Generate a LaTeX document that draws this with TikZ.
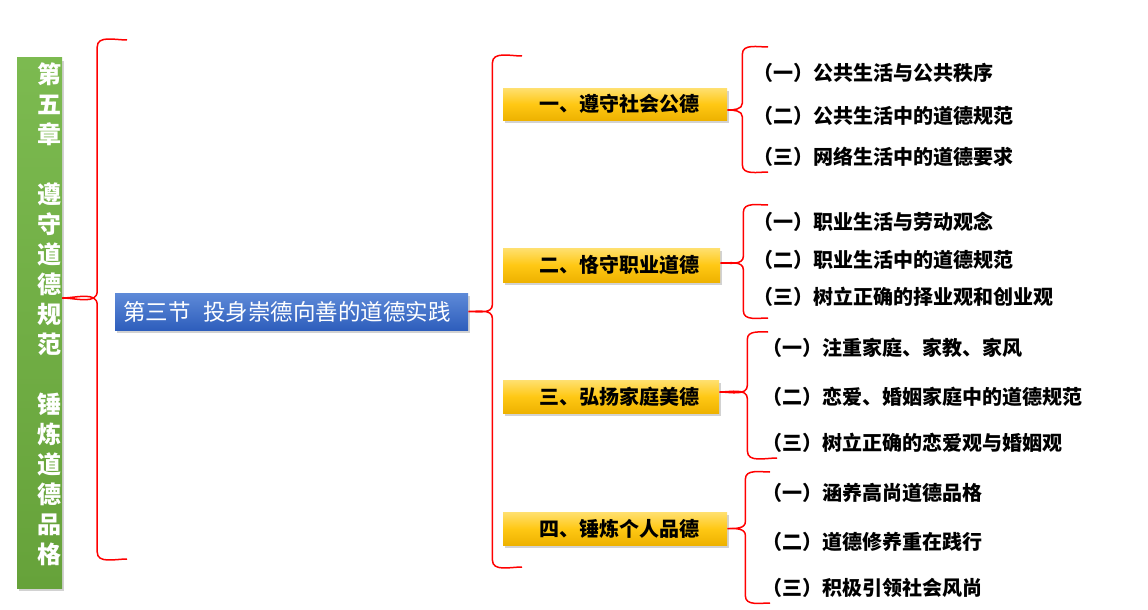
\documentclass[tikz,border=0pt]{standalone}
\usepackage{fontspec}
\setmainfont{Noto Sans CJK SC}
\usetikzlibrary{calc,shadows}
\definecolor{gtop}{RGB}{124,186,80}
\definecolor{gbot}{RGB}{102,162,58}
\definecolor{btop}{RGB}{94,138,216}
\definecolor{bbot}{RGB}{46,94,188}
\definecolor{ytop}{RGB}{255,224,112}
\definecolor{ymid}{RGB}{255,200,20}
\definecolor{ybot}{RGB}{238,178,0}
\definecolor{bracered}{RGB}{255,0,0}
\tikzset{
 shad/.style={drop shadow={shadow xshift=2pt, shadow yshift=-3pt, opacity=0.35}},
 greenbar/.style={shad, top color=gtop, bottom color=gbot, draw=none, minimum width=45pt, minimum height=530pt, inner sep=0pt},
 bartext/.style={text=white, font=\bfseries\fontsize{24}{30}\selectfont, align=center, inner sep=0pt},
 secbox/.style={shad, top color=btop, bottom color=bbot, minimum height=37pt, inner xsep=8pt, inner ysep=0pt, text width=337pt, text=white, font=\fontsize{22.5}{26}\selectfont, align=left, anchor=west},
 ybox/.style={shad, top color=ytop, bottom color=ybot, middle color=ymid, inner xsep=0pt, inner ysep=0pt, font=\bfseries\fontsize{20}{24}\selectfont, align=left, anchor=west},
 item/.style={anchor=west, inner sep=0pt, font=\bfseries\fontsize{20}{24}\selectfont},
 brace/.style={draw=bracered, line width=1.5pt},
}
\newcommand\drawbrace[4]{\draw[brace] let \p1=(#2), \p2=(#3), \p3=(#1) in
 (\p1) to[out=180,in=90] ({\x3+#4},{\y1-7pt}) -- ({\x3+#4},{\y3+7pt})
 to[out=-90,in=0] (\p3) to[out=0,in=90] ({\x3+#4},{\y3-7pt})
 -- ({\x3+#4},{\y2+7pt}) to[out=-90,in=180] (\p2);}
\begin{document}
\begin{tikzpicture}[x=1pt,y=-1pt]
\useasboundingbox[fill=white] (0,0) rectangle (1148,610);
% chapter bar
\node[greenbar] (bar) at (39.5,323) {};
\node[bartext] (bart) at (49,314.5) {第\\五\\章\\\mbox{}\\遵\\守\\道\\德\\规\\范\\\mbox{}\\锤\\炼\\道\\德\\品\\格};
% section
\node[secbox] (sec) at (115,311.5) {第三节 \hspace{5pt}投身崇德向善的道德实践};
% four topics
\node[ybox, text width=224pt, minimum height=32pt] (y1) at (503,104) {\hspace*{36pt}一、遵守社会公德};
\node[ybox, text width=217pt, minimum height=34pt] (y2) at (503,265) {\hspace*{36pt}二、恪守职业道德};
\node[ybox, text width=216pt, minimum height=33pt] (y3) at (503,396.5) {\hspace*{36pt}三、弘扬家庭美德};
\node[ybox, text width=224pt, minimum height=33pt] (y4) at (503,528.5) {\hspace*{36pt}四、锤炼个人品德};
% items
\node[item] (i11) at (753,73) {（一）公共生活与公共秩序};
\node[item] (i12) at (753,116) {（二）公共生活中的道德规范};
\node[item] (i13) at (753,157) {（三）网络生活中的道德要求};
\node[item] (i21) at (753,222) {（一）职业生活与劳动观念};
\node[item] (i22) at (753,260) {（二）职业生活中的道德规范};
\node[item] (i23) at (753,297) {（三）树立正确的择业观和创业观};
\node[item] (i31) at (762,348) {（一）注重家庭、家教、家风};
\node[item] (i32) at (762,397) {（二）恋爱、婚姻家庭中的道德规范};
\node[item] (i33) at (762,443) {（三）树立正确的恋爱观与婚姻观};
\node[item] (i41) at (762,493) {（一）涵养高尚道德品格};
\node[item] (i42) at (762,542) {（二）道德修养重在践行};
\node[item] (i43) at (762,588) {（三）积极引领社会风尚};
% brace end points
\coordinate (b0t) at (127,40);  \coordinate (b0b) at (127,559);
\coordinate (bmt) at (522,56);  \coordinate (bmb) at (522,567);
\coordinate (b1t) at (768,47);  \coordinate (b1b) at (768,172);
\coordinate (b2t) at (768,205); \coordinate (b2b) at (768,318);
\coordinate (b3t) at (768,332); \coordinate (b3b) at (777,458);
\coordinate (b4t) at (770,472); \coordinate (b4b) at (770,603);
% braces
\drawbrace{[yshift=25pt]bar.east}{b0t}{b0b}{35pt}
\drawbrace{sec.east}{bmt}{bmb}{24pt}
\drawbrace{[yshift=-6pt]y1.east}{b1t}{b1b}{15pt}
\drawbrace{[yshift=2pt]y2.east}{b2t}{b2b}{23pt}
\drawbrace{[yshift=4.5pt]y3.east}{b3t}{b3b}{28pt}
\drawbrace{y4.east}{b4t}{b4b}{18pt}
\end{tikzpicture}
\end{document}
